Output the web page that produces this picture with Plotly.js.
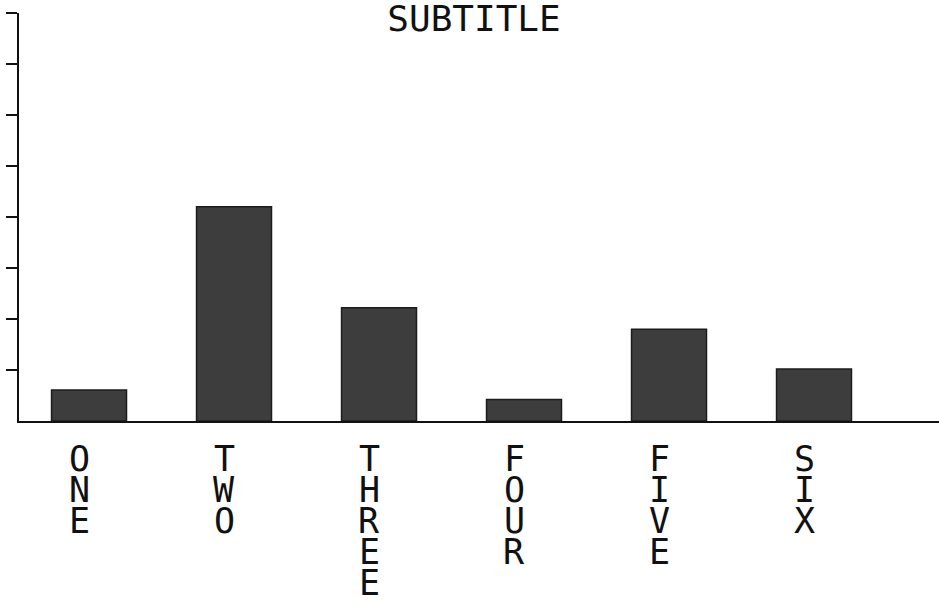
<!DOCTYPE html>
<html>
<head>
<meta charset="utf-8">
<script src="https://cdn.plot.ly/plotly-3.0.1.min.js"></script>
<style>html,body{margin:0;padding:0;background:#fff;}#chart{width:939px;height:603px;}</style>
</head>
<body>
<div id="chart"></div>
<script>
var categories = ["ONE", "TWO", "THREE", "FOUR", "FIVE", "SIX"];
var values = [0.61, 4.2, 2.22, 0.42, 1.8, 1.02];
var yTicks = [1, 2, 3, 4, 5, 6, 7, 8];
var chartTitle = "SUBTITLE";

var FONT = "DejaVu Sans Mono, Liberation Mono, monospace";
var annotations = [];
categories.forEach(function (c) {
  c.split("").forEach(function (ch, i) {
    annotations.push({
      xref: "x", yref: "paper", x: c, y: 0,
      text: ch, showarrow: false,
      xanchor: "center", yanchor: "middle",
      xshift: -10, yshift: -(38 + i * 31),
      font: {family: FONT, size: 35, color: "#111"}
    });
  });
});

var trace = {
  type: "bar", x: categories, y: values,
  marker: {color: "#3d3d3d", line: {color: "#1c1c1c", width: 1.5}},
  hoverinfo: "none"
};

var layout = {
  width: 939, height: 603,
  margin: {l: 19, r: 0, t: 13, b: 182},
  paper_bgcolor: "#fff", plot_bgcolor: "#fff",
  showlegend: false,
  bargap: 0.483,
  title: {text: chartTitle, x: 474 / 939, xanchor: "center", xref: "container",
          y: 1 - 18 / 603, yanchor: "middle", yref: "container",
          font: {family: FONT, size: 36, color: "#111"}},
  xaxis: {range: [-0.483, 5.862], showticklabels: false, ticks: "",
          showgrid: false, zeroline: false, showline: true,
          linecolor: "#111", linewidth: 2, fixedrange: true},
  yaxis: {range: [0, 8], tickvals: yTicks, showticklabels: false,
          ticks: "outside", ticklen: 11, tickwidth: 2, tickcolor: "#111",
          showgrid: false, zeroline: false, showline: true,
          linecolor: "#111", linewidth: 2, fixedrange: true},
  annotations: annotations
};

Plotly.newPlot("chart", [trace], layout, {staticPlot: true});
</script>
</body>
</html>
